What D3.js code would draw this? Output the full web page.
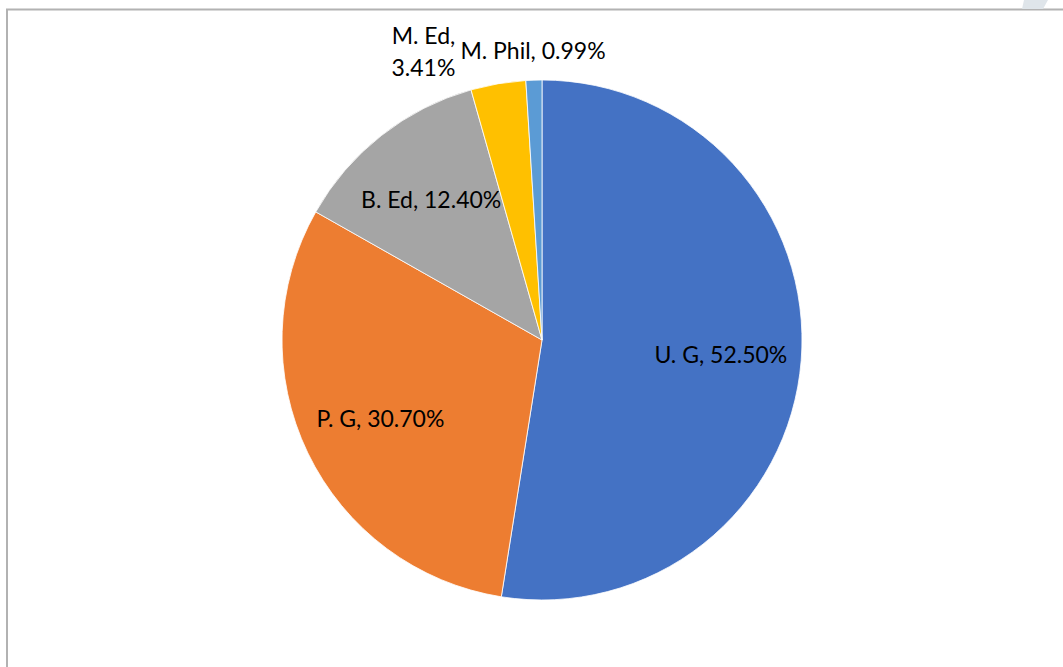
<!DOCTYPE html>
<html>
<head>
<meta charset="utf-8">
<script src="https://cdn.jsdelivr.net/npm/d3@7"></script>
<style>
  html, body { margin: 0; padding: 0; background: #fff; }
  svg { display: block; }
</style>
</head>
<body>
<svg id="chart" width="1063" height="667"></svg>
<script>
// ---- data ----
const categories = ["U. G", "P. G", "B. Ed", "M. Ed", "M. Phil"];
const values = [52.50, 30.70, 12.40, 3.41, 0.99];
const valueLabels = ["52.50%", "30.70%", "12.40%", "3.41%", "0.99%"];
const colors = ["#4472C4", "#ED7D31", "#A5A5A5", "#FFC000", "#5B9BD5"];

// ---- layout ----
const W = 1063, H = 667;
const cx = 542, cy = 340, r = 260;
const fontFamily = "Lato, 'Open Sans', sans-serif";
const fontSize = 23;

const svg = d3.select("#chart");

// chart area frame (partly cropped)
svg.append("rect")
  .attr("x", 7).attr("y", 9.5)
  .attr("width", W + 20).attr("height", H + 20)
  .attr("fill", "none")
  .attr("stroke", "#b2b2b2")
  .attr("stroke-width", 2);

// faint watermark fragment at top-right
svg.append("path")
  .attr("d", "M1024,0 L1048,0 L1043,9 L1022,9 Z")
  .attr("fill", "#dfe5ea");

const pie = d3.pie().sort(null).value(d => d)
  .startAngle(0).endAngle(2 * Math.PI);
const arcs = pie(values);

const arc = d3.arc().innerRadius(0).outerRadius(r);
const g = svg.append("g").attr("transform", `translate(${cx},${cy})`);

g.selectAll("path.slice")
  .data(arcs)
  .join("path")
  .attr("class", "slice")
  .attr("d", arc)
  .attr("fill", (d, i) => colors[i])
  .attr("stroke", "#ffffff")
  .attr("stroke-width", 0.8);

// ---- labels ----
const insideArc = d3.arc().innerRadius(r * 0.69).outerRadius(r * 0.69);
const outsideArc = d3.arc().innerRadius(r * 1.115).outerRadius(r * 1.115);
const smallThreshold = 5; // percent: labels go outside

const labelG = svg.append("g")
  .attr("font-family", fontFamily)
  .attr("font-size", fontSize)
  .attr("fill", "#000");

const placedOutside = [];
// process outside labels from the last slice backwards so the smallest sits at its centroid
const order = arcs.map((d, i) => i).reverse();
order.forEach(i => {
  const d = arcs[i];
  const text = categories[i] + ", " + valueLabels[i];
  if (values[i] >= smallThreshold) {
    const [x, y] = insideArc.centroid(d);
    labelG.append("text")
      .attr("x", cx + x).attr("y", cy + y)
      .attr("text-anchor", "middle")
      .attr("dominant-baseline", "central")
      .text(text);
  } else {
    const [x, y] = outsideArc.centroid(d);
    const t = labelG.append("text")
      .attr("x", cx + x).attr("y", cy + y)
      .attr("text-anchor", "middle")
      .attr("dominant-baseline", "central")
      .text(text);
    let bb = t.node().getBBox();
    const collide = placedOutside.find(p => bb.x + bb.width > p.x - 4 && bb.x < p.x + p.width);
    if (collide) {
      // wrap into two lines and shift left of the neighbour
      t.text(null);
      const lines = [categories[i] + ",", valueLabels[i]];
      const lh = 32;
      lines.forEach((ln, k) => {
        t.append("tspan")
          .attr("x", cx + x)
          .attr("y", cy + y - 3 + (k - (lines.length - 1) / 2) * lh)
          .text(ln);
      });
      bb = t.node().getBBox();
      const shift = (collide.x - 5) - (bb.x + bb.width);
      t.selectAll("tspan").attr("x", cx + x + shift);
      bb = t.node().getBBox();
    }
    placedOutside.push(bb);
  }
});
</script>
</body>
</html>
